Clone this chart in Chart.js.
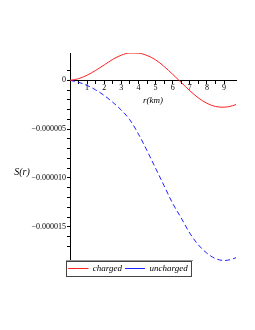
<!DOCTYPE html>
<html>
<head>
<meta charset="utf-8">
<script src="https://cdn.jsdelivr.net/npm/chart.js@4/dist/chart.umd.min.js"></script>
<style>
  html, body { margin: 0; padding: 0; background: #fff; }
  #wrap { width: 255px; height: 330px; }
</style>
</head>
<body>
<div id="wrap"><canvas id="graphCanvas"></canvas></div>
<script>
// radius r (km) and S(r) for both cases
const radius = [0, 0.5, 1, 1.5, 2, 2.5, 3, 3.5, 4, 4.5, 5, 5.5, 6, 6.5, 7, 7.5, 8, 8.5, 9, 9.5, 9.7];
const charged = [0, 0.17e-6, 0.53e-6, 1.02e-6, 1.58e-6, 2.15e-6, 2.58e-6, 2.8e-6, 2.78e-6, 2.55e-6,
  2.1e-6, 1.42e-6, 0.62e-6, -0.22e-6, -1.06e-6, -1.8e-6, -2.35e-6, -2.68e-6, -2.75e-6, -2.6e-6, -2.48e-6];
const uncharged = [0, -0.2e-6, -0.52e-6, -0.98e-6, -1.55e-6, -2.25e-6, -3.05e-6, -4.05e-6, -5.5e-6, -7.2e-6,
  -9.0e-6, -10.8e-6, -12.6e-6, -14.1e-6, -15.65e-6, -16.85e-6, -17.7e-6, -18.25e-6, -18.45e-6, -18.3e-6, -18.15e-6];
const seriesNames = ['charged', 'uncharged'];
const xTickLabels = ['1', '2', '3', '4', '5', '6', '7', '8', '9'];
const yTickLabels = ['0', '\u22120.000005', '\u22120.000010', '\u22120.000015'];

const serif = "'Liberation Serif', 'DejaVu Serif', serif";

function pts(vals) {
    return vals.map((v, i) => ({x: radius[i], y: v}));
}

// box round the legend and the S(r) label
const extras = {
    id: 'extras',
    afterDraw(chart) {
        const ctx = chart.ctx;
        const hb = chart.legend.legendHitBoxes;
        if (hb && hb.length) {
            const last = hb[hb.length - 1];
            const l = hb[0].left - 2, r = last.left + last.width + 4;
            const t = hb[0].top - 3, b = hb[0].top + hb[0].height + 3;
            ctx.save();
            ctx.strokeStyle = '#444';
            ctx.lineWidth = 1;
            ctx.strokeRect(Math.round(l) + 0.5, Math.round(t) + 0.5, Math.round(r - l), Math.round(b - t));
            ctx.strokeStyle = '#999';
            ctx.beginPath();
            ctx.moveTo(Math.round(l), Math.round(t) - 0.5);
            ctx.lineTo(Math.round(r) + 1, Math.round(t) - 0.5);
            ctx.stroke();
            ctx.restore();
        }
        ctx.save();
        ctx.fillStyle = '#000';
        ctx.font = 'italic 10px ' + serif;
        ctx.textAlign = 'center';
        ctx.textBaseline = 'middle';
        ctx.fillText('S(r)', 22, 172);
        ctx.restore();
    }
};

const ctx = document.getElementById('graphCanvas').getContext('2d');
const myChart = new Chart(ctx, {
    type: 'line',
    data: {
        datasets: [{
            label: seriesNames[0],
            data: pts(charged),
            borderColor: '#ff2020',
            backgroundColor: '#ff2020',
            borderWidth: 1,
            pointRadius: 0,
            cubicInterpolationMode: 'monotone'
        }, {
            label: seriesNames[1],
            data: pts(uncharged),
            borderColor: '#2020ff',
            backgroundColor: '#2020ff',
            borderWidth: 1,
            borderDash: [5, 3],
            pointRadius: 0,
            cubicInterpolationMode: 'monotone'
        }]
    },
    options: {
        responsive: true,
        maintainAspectRatio: false,
        animation: false,
        layout: { padding: { left: 20, right: 19, top: 53, bottom: 47 } },
        plugins: {
            tooltip: { enabled: false },
            legend: {
                position: 'bottom',
                labels: {
                    boxWidth: 20,
                    boxHeight: 0,
                    padding: 3,
                    color: '#000',
                    font: { family: serif, size: 9, style: 'italic' }
                }
            }
        },
        scales: {
            x: {
                type: 'linear',
                position: { y: 0 },
                min: 0,
                max: 9.7,
                afterFit: axis => { axis.height = 30; },
                afterBuildTicks: axis => {
                    axis.ticks = axis.ticks.filter(t => Math.abs(t.value * 2 - Math.round(t.value * 2)) < 1e-6);
                },
                border: { color: '#000', width: 1 },
                grid: { drawOnChartArea: false, drawTicks: true, tickLength: 3, color: '#000' },
                ticks: {
                    stepSize: 0.5,
                    autoSkip: false,
                    maxRotation: 0,
                    padding: 0,
                    color: '#000',
                    font: { family: serif, size: 8 },
                    callback: v => xTickLabels.includes(String(v)) ? String(v) : ''
                },
                title: {
                    display: true,
                    text: 'r(km)',
                    color: '#000',
                    font: { family: serif, size: 9, style: 'italic' }
                }
            },
            y: {
                position: 'left',
                min: -18.5e-6,
                max: 2.8e-6,
                afterFit: axis => { axis.width = 50; },
                afterBuildTicks: axis => {
                    axis.ticks = axis.ticks.filter(t => Math.abs(t.value * 1e6 - Math.round(t.value * 1e6)) < 1e-3);
                },
                border: { color: '#000', width: 1 },
                grid: { drawOnChartArea: false, drawTicks: true, tickLength: 3, color: '#000' },
                ticks: {
                    stepSize: 1e-6,
                    autoSkip: false,
                    padding: 1,
                    color: '#000',
                    font: { family: serif, size: 8 },
                    callback: v => {
                        const n = Math.round(v * 1e6);
                        if (n % 5 !== 0) return '';
                        const lab = n === 0 ? '0' : '\u2212' + (Math.abs(n) / 1e6).toFixed(6);
                        return yTickLabels.includes(lab) ? lab : '';
                    }
                }
            }
        }
    },
    plugins: [extras]
});
</script>
</body>
</html>
